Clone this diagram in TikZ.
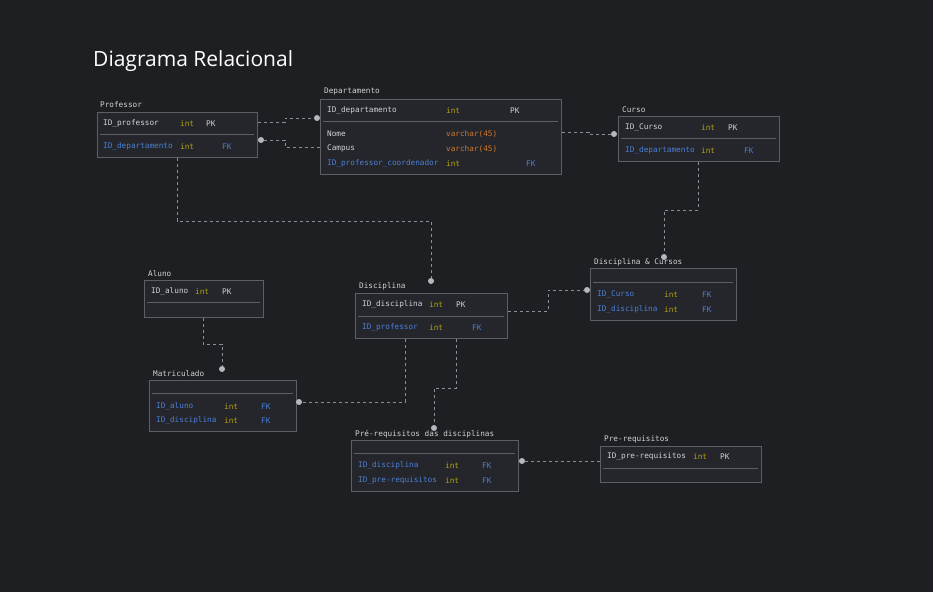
\documentclass[tikz,border=0pt]{standalone}
\usepackage{fontspec}
\setmainfont{Open Sans}
\setmonofont{DejaVu Sans Mono}
\usetikzlibrary{positioning}

\definecolor{bg}{HTML}{1E1F22}
\definecolor{boxfill}{HTML}{25262B}
\definecolor{boxline}{HTML}{5E5F65}
\definecolor{txt}{HTML}{D2D2D6}
\definecolor{inttype}{HTML}{B3A312}
\definecolor{vartype}{HTML}{D27A2C}
\definecolor{keyblue}{HTML}{4A80D8}
\definecolor{wire}{HTML}{8E8F95}
\definecolor{dotc}{HTML}{B6B7BC}

\begin{document}
\begin{tikzpicture}[x=1pt, y=-1pt,
    tbl/.style = {draw=boxline, fill=boxfill, line width=1.3pt, anchor=north west, inner sep=0pt},
    ttl/.style = {anchor=west, inner sep=0pt, yshift=-0.8pt, text=txt, font=\ttfamily\fontsize{7.7}{9}\selectfont},
    fld/.style = {ttl},
    fkf/.style = {ttl, text=keyblue},
    ty/.style = {ttl, text=inttype},
    vc/.style = {ttl, text=vartype},
    sep/.style = {draw=boxline, line width=1pt},
    rel/.style = {draw=wire, line width=1pt, dash pattern=on 3pt off 3pt},
    enddot/.style = {circle, fill=dotc, inner sep=0pt, minimum size=6pt}]

    \useasboundingbox (0,0) rectangle (933,592);
    \fill[bg] (0,0) rectangle (933,592);

    \node[anchor=base west, inner sep=0pt, text=white, font=\fontsize{21}{24}\selectfont] (title) at (93,66) {Diagrama Relacional};

    % Professor
    \node[tbl, minimum width=160, minimum height=45] (prof) at (97,112) {};
    \node[ttl] at (100,104) {Professor};
    \draw[sep] (100,134) -- (254,134);
    \node[fld] at (103,123) {ID\_professor};  \node[ty] at (180,123) {int}; \node[fld] at (206,123) {PK};
    \node[fkf] at (103,146) {ID\_departamento}; \node[ty] at (180,146) {int}; \node[fkf] at (222,146) {FK};

    % Departamento
    \node[tbl, minimum width=241, minimum height=75] (dep) at (320,99) {};
    \node[ttl] at (324,91) {Departamento};
    \draw[sep] (323,121) -- (558,121);
    \node[fld] at (327,110) {ID\_departamento}; \node[ty] at (446,110) {int}; \node[fld] at (510,110) {PK};
    \node[fld] at (327,133) {Nome};   \node[vc] at (446,133) {varchar(45)};
    \node[fld] at (327,148) {Campus}; \node[vc] at (446,148) {varchar(45)};
    \node[fkf] at (327,163) {ID\_professor\_coordenador}; \node[ty] at (446,163) {int}; \node[fkf] at (526,163) {FK};

    % Curso
    \node[tbl, minimum width=161, minimum height=45] (curso) at (618,116) {};
    \node[ttl] at (622,109) {Curso};
    \draw[sep] (621,138) -- (776,138);
    \node[fld] at (625,127) {ID\_Curso}; \node[ty] at (701,127) {int}; \node[fld] at (728,127) {PK};
    \node[fkf] at (625,150) {ID\_departamento}; \node[ty] at (701,150) {int}; \node[fkf] at (744,150) {FK};

    % Disciplina & Cursos
    \node[tbl, minimum width=146, minimum height=52] (dc) at (590,268) {};
    \node[ttl] at (594,262) {Disciplina \& Cursos};
    \draw[sep] (593,282) -- (733,282);
    \node[fkf] at (597,294) {ID\_Curso}; \node[ty] at (664,294) {int}; \node[fkf] at (702,294) {FK};
    \node[fkf] at (597,309) {ID\_disciplina}; \node[ty] at (664,309) {int}; \node[fkf] at (702,309) {FK};

    % Aluno
    \node[tbl, minimum width=119, minimum height=37] (aluno) at (144,280) {};
    \node[ttl] at (148,273) {Aluno};
    \draw[sep] (147,302) -- (260,302);
    \node[fld] at (151,291) {ID\_aluno}; \node[ty] at (195,291) {int}; \node[fld] at (222,291) {PK};

    % Disciplina
    \node[tbl, minimum width=152, minimum height=45] (disc) at (355,293) {};
    \node[ttl] at (359,286) {Disciplina};
    \draw[sep] (358,316) -- (504,316);
    \node[fld] at (362,304) {ID\_disciplina}; \node[ty] at (429,304) {int}; \node[fld] at (456,304) {PK};
    \node[fkf] at (362,327) {ID\_professor}; \node[ty] at (429,327) {int}; \node[fkf] at (472,327) {FK};

    % Matriculado
    \node[tbl, minimum width=147, minimum height=51] (matr) at (149,380) {};
    \node[ttl] at (153,373) {Matriculado};
    \draw[sep] (152,393) -- (293,393);
    \node[fkf] at (156,406) {ID\_aluno}; \node[ty] at (224,406) {int}; \node[fkf] at (261,406) {FK};
    \node[fkf] at (156,420) {ID\_disciplina}; \node[ty] at (224,420) {int}; \node[fkf] at (261,420) {FK};

    % Pre-requisitos das disciplinas
    \node[tbl, minimum width=167, minimum height=51] (prd) at (351,440) {};
    \node[ttl] at (355,433) {Pré-requisitos das disciplinas};
    \draw[sep] (354,453) -- (515,453);
    \node[fkf] at (358,465) {ID\_disciplina}; \node[ty] at (445,465) {int}; \node[fkf] at (482,465) {FK};
    \node[fkf] at (358,480) {ID\_pre-requisitos}; \node[ty] at (445,480) {int}; \node[fkf] at (482,480) {FK};

    % Pre-requisitos
    \node[tbl, minimum width=161, minimum height=36] (preq) at (600,446) {};
    \node[ttl] at (604,439) {Pre-requisitos};
    \draw[sep] (603,468) -- (758,468);
    \node[fld] at (607,456) {ID\_pre-requisitos}; \node[ty] at (693,456) {int}; \node[fld] at (720,456) {PK};

    % relations
    \node[enddot] (d1) at (317,118) {};
    \node[enddot] (d2) at (261,140) {};
    \node[enddot] (d3) at (614,134) {};
    \node[enddot] (d4) at (664,257) {};
    \node[enddot] (d5) at (587,290) {};
    \node[enddot] (d6) at (431,281) {};
    \node[enddot] (d7) at (222,369) {};
    \node[enddot] (d8) at (299,402) {};
    \node[enddot] (d9) at (434,428) {};
    \node[enddot] (d10) at (522,461) {};

    \draw[rel] ([yshift=-10pt]prof.north east) -- (285,122) -- (285,118) -- (d1);
    \draw[rel] (d2) -- (285,140) -- (285,147) -- ([yshift=-48pt]dep.north west);
    \draw[rel] ([yshift=-33pt]dep.north east) -- (589,132) -- (589,134) -- (d3);
    \draw[rel] ([xshift=80pt]curso.south west) -- (698,210) -- (664,210) -- (d4);
    \draw[rel] ([yshift=-18pt]disc.north east) -- (548,311) -- (548,290) -- (d5);
    \draw[rel] ([xshift=80pt]prof.south west) -- (177,221) -- (431,221) -- (d6);
    \draw[rel] ([xshift=59pt]aluno.south west) -- (203,344) -- (222,344) -- (d7);
    \draw[rel] ([xshift=50pt]disc.south west) -- (405,402) -- (d8);
    \draw[rel] ([xshift=101pt]disc.south west) -- (456,388) -- (434,388) -- (d9);
    \draw[rel] (d10) -- (d10 -| preq.west);

\end{tikzpicture}
\end{document}
